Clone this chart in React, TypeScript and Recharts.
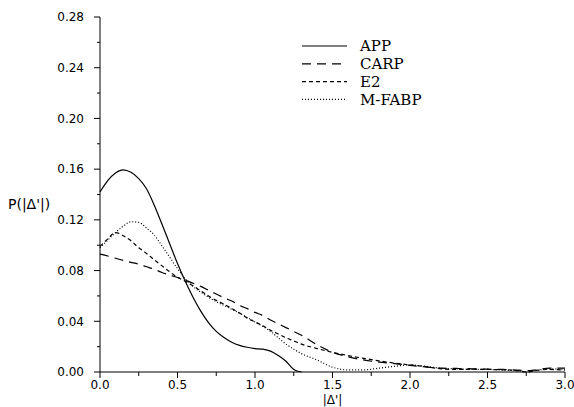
import React from 'react';
import { LineChart, Line, XAxis, YAxis, Legend } from 'recharts';

// ── data ────────────────────────────────────────────────────────────────────
const xs = [
  0, 0.05, 0.1, 0.15, 0.2, 0.25, 0.3, 0.35, 0.4, 0.45, 0.5, 0.55, 0.6, 0.65, 0.7, 0.75,
  0.8, 0.85, 0.9, 0.95, 1.0, 1.05, 1.1, 1.15, 1.2, 1.25, 1.3, 1.4, 1.5, 1.6, 1.7, 1.8,
  1.9, 2.0, 2.1, 2.2, 2.3, 2.4, 2.5, 2.6, 2.7, 2.75, 2.8, 2.9, 3.0,
];

const app = [
  0.142, 0.151, 0.157, 0.1595, 0.1575, 0.1525, 0.1445, 0.1315, 0.1165, 0.101, 0.0855, 0.0715, 0.059, 0.048, 0.039, 0.032,
  0.0272, 0.0235, 0.021, 0.0195, 0.0185, 0.018, 0.0165, 0.013, 0.0085, 0.002, 0,
  null, null, null, null, null, null, null, null, null, null, null, null, null, null, null, null, null, null,
];

const carp = [
  0.093, 0.0915, 0.0897, 0.088, 0.0865, 0.085, 0.083, 0.081, 0.0785, 0.0765, 0.0745, 0.0725, 0.070, 0.0675, 0.0645, 0.0615,
  0.0585, 0.056, 0.0525, 0.050, 0.047, 0.0445, 0.041, 0.038, 0.035, 0.032, 0.029, 0.0215, 0.0155, 0.012, 0.0095, 0.0078,
  0.0066, 0.0052, 0.004, 0.003, 0.0028, 0.0025, 0.0022, 0.002, 0.0015, 0.001, 0.0015, 0.003, 0.003,
];

const e2 = [
  0.099, 0.105, 0.110, 0.1075, 0.1035, 0.098, 0.0935, 0.0885, 0.0837, 0.079, 0.0748, 0.0715, 0.068, 0.064, 0.060, 0.0565,
  0.0535, 0.050, 0.0465, 0.0425, 0.0395, 0.0365, 0.033, 0.030, 0.027, 0.0245, 0.022, 0.0185, 0.0155, 0.013, 0.0108, 0.0088,
  0.007, 0.0056, 0.0043, 0.0025, 0.002, 0.0022, 0.002, 0.0018, 0.001, 0, 0.001, 0.002, 0.0015,
];

const mfabp = [
  0.098, 0.104, 0.110, 0.115, 0.1185, 0.118, 0.1135, 0.108, 0.0995, 0.0905, 0.0815, 0.0735, 0.0675, 0.063, 0.059, 0.0555,
  0.0525, 0.0495, 0.0465, 0.043, 0.0395, 0.036, 0.032, 0.027, 0.022, 0.018, 0.0145, 0.0095, 0.0038, 0.0016, 0.0017, 0.003,
  0.0045, 0.0055, 0.0045, 0.003, 0.0025, 0.002, 0.002, 0.0015, 0.0008, 0, 0.001, 0.0025, 0.002,
];

const yTicks = [0, 0.02, 0.04, 0.06, 0.08, 0.1, 0.12, 0.14, 0.16, 0.18, 0.2, 0.22, 0.24, 0.26, 0.28];
const xTicks = [0, 0.25, 0.5, 0.75, 1, 1.25, 1.5, 1.75, 2, 2.25, 2.5, 2.75, 3];

const SERIES = [
  { key: 'APP', dash: undefined },
  { key: 'CARP', dash: '9 6' },
  { key: 'E2', dash: '4 3' },
  { key: 'M-FABP', dash: '1 2' },
];

const data = xs.map((x, i) => ({ x, APP: app[i], CARP: carp[i], E2: e2[i], 'M-FABP': mfabp[i] }));

const SANS = '"DejaVu Sans", sans-serif';
const TICK = 6;
const YGAP = 10;
const XGAP = 2;

// y ticks: major every 0.04 with a label, minor in between
function YTick(props: any) {
  const { x, y, payload } = props;
  const v = payload.value;
  const major = Math.round(v * 100) % 4 === 0;
  const axisX = x + YGAP + TICK;
  return (
    <g>
      <line x1={axisX - (major ? TICK : 3)} x2={axisX} y1={y} y2={y} stroke="#000" strokeWidth={1} />
      {major && (
        <text x={x} y={y} dy="0.36em" textAnchor="end" fontSize={12} fontFamily={SANS} fill="#000">
          {v.toFixed(2)}
        </text>
      )}
    </g>
  );
}

// x ticks: labelled every 0.5, minor every 0.25
function XTick(props: any) {
  const { x, y, payload } = props;
  const v = payload.value;
  const major = Math.round(v * 100) % 50 === 0;
  const axisY = y - XGAP - TICK;
  return (
    <g>
      <line x1={x} x2={x} y1={axisY} y2={axisY + (major ? TICK : 4)} stroke="#000" strokeWidth={1} />
      {major && (
        <text x={x} y={y} dy="0.71em" textAnchor="middle" fontSize={12} fontFamily={SANS} fill="#000">
          {v.toFixed(1)}
        </text>
      )}
    </g>
  );
}

function LegendBox() {
  return (
    <svg width={190} height={76}>
      {SERIES.map((s, i) => (
        <g key={s.key}>
          <line x1={2} x2={47} y1={10 + i * 17.8} y2={10 + i * 17.8} stroke="#000" strokeWidth={1.2} strokeDasharray={s.dash} />
          <text x={60} y={10 + i * 17.8} dy="0.36em" fontSize={15} fontFamily='"DejaVu Serif", serif' fill="#000">
            {s.key}
          </text>
        </g>
      ))}
    </svg>
  );
}

export default function App() {
  return (
    <div style={{ position: 'absolute', left: 0, top: 0, background: '#fff', fontFamily: SANS }}>
      <LineChart width={574} height={407} data={data} margin={{ top: 17, right: 9, bottom: 5, left: 0 }}>
        <XAxis
          dataKey="x" type="number" domain={[0, 3]} ticks={xTicks} interval={0}
          height={30} tickSize={TICK} tickMargin={XGAP} tickLine={false}
          axisLine={{ stroke: '#000' }} tick={<XTick />}
          label={{ value: "|Δ'|", position: 'insideBottom', offset: -2, fontSize: 12, fill: '#000' }}
        />
        <YAxis
          type="number" domain={[0, 0.28]} ticks={yTicks} interval={0}
          width={100} tickSize={TICK} tickMargin={YGAP} tickLine={false}
          axisLine={{ stroke: '#000' }} tick={<YTick />}
          label={{ value: "P(|Δ'|)", position: 'insideLeft', offset: 8, dy: 10, fontSize: 14, fill: '#000' }}
        />
        <Legend
          layout="vertical" align="center" verticalAlign="middle"
          wrapperStyle={{ top: 36, left: 300, width: 190 }}
          content={() => <LegendBox />}
        />
        {SERIES.map(s => (
          <Line
            key={s.key}
            type="monotone"
            dataKey={s.key}
            stroke="#000"
            strokeWidth={1.2}
            strokeDasharray={s.dash}
            dot={false}
            isAnimationActive={false}
          />
        ))}
      </LineChart>
    </div>
  );
}
